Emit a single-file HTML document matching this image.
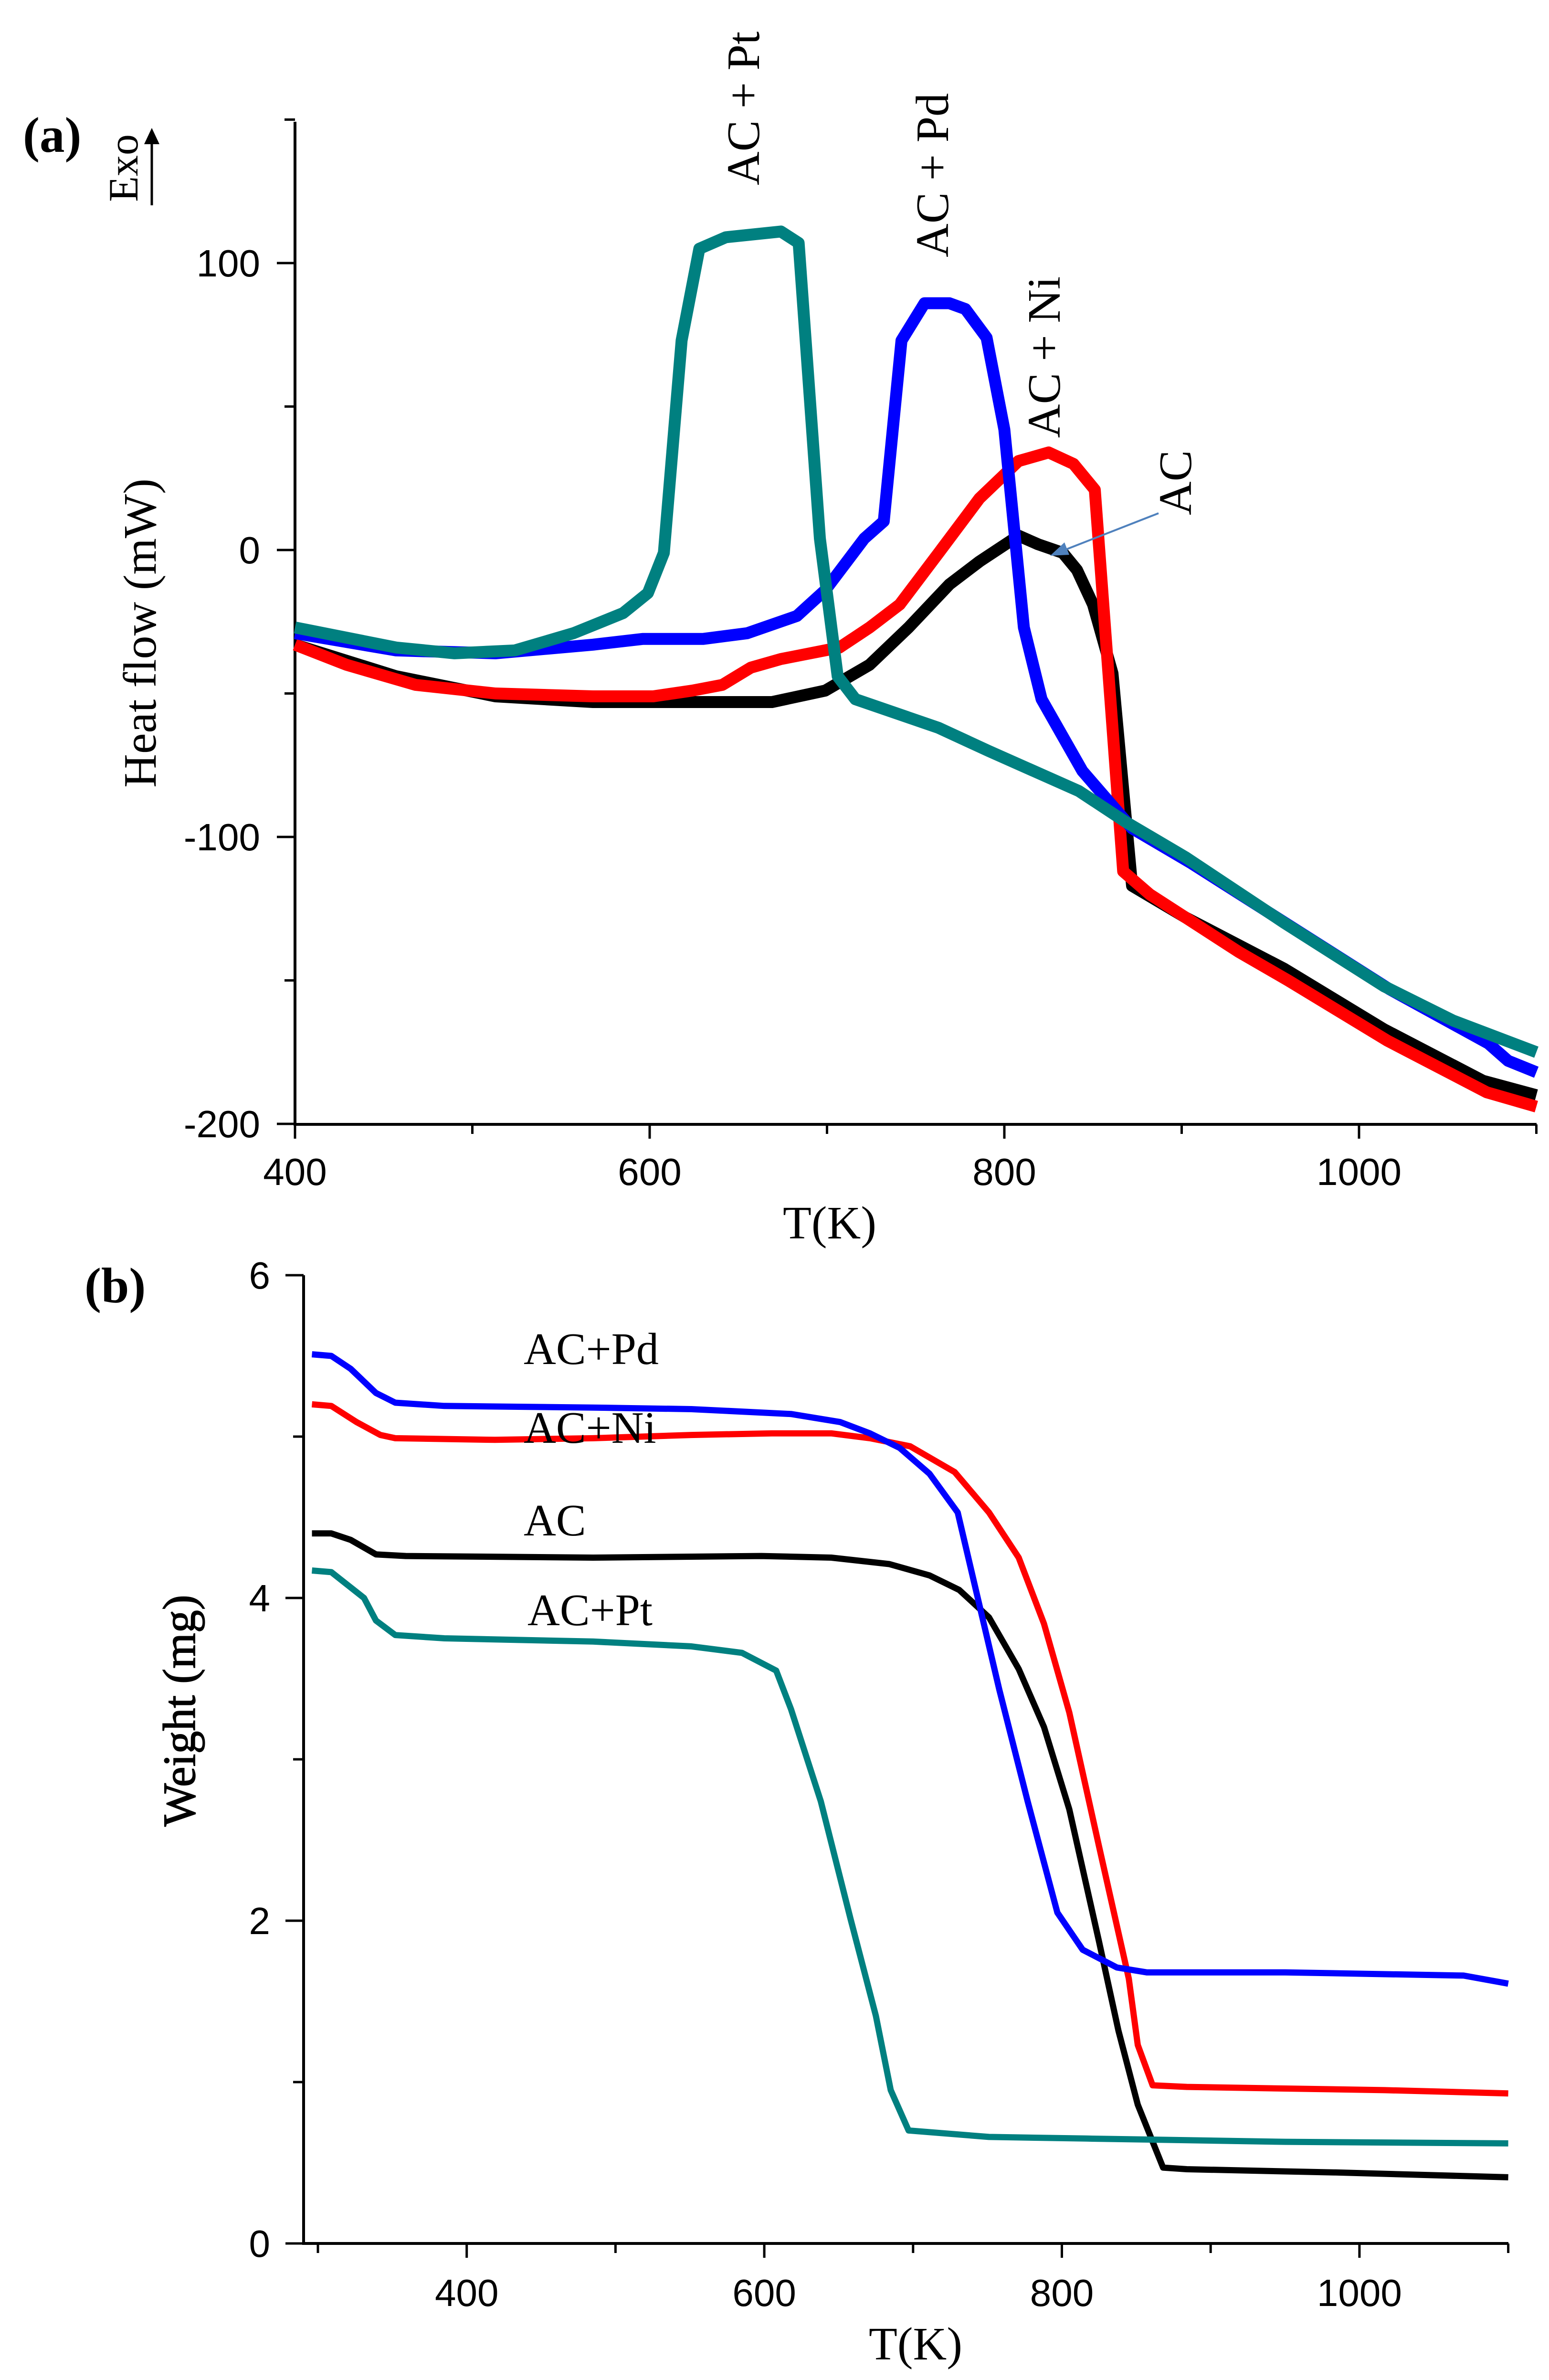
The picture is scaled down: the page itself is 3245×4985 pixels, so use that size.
<!DOCTYPE html>
<html><head><meta charset="utf-8">
<style>
html,body{margin:0;padding:0;background:#fff;}
svg{display:block;}
.tick{font-family:"Liberation Sans",Arial,sans-serif;font-size:80px;fill:#000;}
.serif{font-family:"Liberation Serif","Times New Roman",serif;fill:#000;}
</style></head>
<body>
<svg id="chart" width="3245" height="4985" viewBox="0 0 3245 4985" xmlns="http://www.w3.org/2000/svg">
  <g id="pa"></g>
  <g id="pb"></g>
  <text class="serif" x="48" y="318" font-size="105" font-weight="bold">(a)</text>
  <g>
    <text class="serif" transform="translate(288,352) rotate(-90)" font-size="88" text-anchor="middle">Exo</text>
    <line x1="318" y1="430" x2="318" y2="300" stroke="#000" stroke-width="5"/>
    <polygon points="302,302 334,302 318,268" fill="#000"/>
  </g>
  <text class="serif" transform="translate(326,1326) rotate(-90)" font-size="98" text-anchor="middle">Heat flow (mW)</text>
  <text class="serif" x="1738" y="2594" font-size="98" text-anchor="middle">T(K)</text>
  <text class="serif" transform="translate(1590,227) rotate(-90)" font-size="98" text-anchor="middle">AC + Pt</text>
  <text class="serif" transform="translate(1986,367) rotate(-90)" font-size="98" text-anchor="middle">AC + Pd</text>
  <text class="serif" transform="translate(2220,748) rotate(-90)" font-size="98" text-anchor="middle">AC + Ni</text>
  <text class="serif" transform="translate(2495,1011) rotate(-90)" font-size="98" text-anchor="middle">AC</text>
  <g>
    <line x1="2427" y1="1075" x2="2225" y2="1154" stroke="#4f81bd" stroke-width="4"/>
    <polygon points="2200,1164 2230,1136 2240,1162" fill="#4f81bd"/>
  </g>
  <text class="serif" x="177" y="2728" font-size="105" font-weight="bold">(b)</text>
  <text class="serif" transform="translate(408,3583) rotate(-90)" font-size="96" text-anchor="middle" stroke="#000" stroke-width="1.5">Weight (mg)</text>
  <text class="serif" x="1918" y="4942" font-size="98" text-anchor="middle">T(K)</text>
  <text class="serif" x="1097" y="2857" font-size="94">AC+Pd</text>
  <text class="serif" x="1097" y="3022" font-size="94">AC+Ni</text>
  <text class="serif" x="1097" y="3216" font-size="94">AC</text>
  <text class="serif" x="1105" y="3404" font-size="94">AC+Pt</text>
</svg>
<script>
// ---- Panel (a) DSC data ----
const aXTicks = [400, 600, 800, 1000];
const aXMinor = [500, 700, 900, 1100];
const aYTicks = [100, 0, -100, -200];
const aYMinor = [150, 50, -50, -150];
const ptT = [400,457,490,524,557,585,599,608,618,628,643,674,684,696,706,716,763,791,842,869,902,958,1014,1053,1100];
const ptV = [-27,-34,-36,-35,-29,-22,-15,-1,73,105,109,111,107,4,-44,-52,-62,-70,-84,-95,-107,-130,-152,-164,-175];
const pdT = [400,457,513,568,596,630,655,683,699,721,732,742,755,769,778,790,800,811,821,844,872,905,961,1017,1073,1084,1100];
const pdV = [-29,-35,-36,-33,-31,-31,-29,-23,-14,4,10,73,86,86,84,74,42,-27,-52,-77,-97,-109,-131,-153,-172,-178,-182];
const niT = [400,429,468,513,568,602,624,641,657,674,707,724,741,763,786,808,825,839,851,857,867,882,932,960,1016,1072,1100];
const niV = [-33,-40,-47,-50,-51,-51,-49,-47,-41,-38,-34,-27,-19,-1,18,31,34,30,21,-29,-112,-120,-140,-150,-171,-189,-194];
const acT = [400,457,513,568,624,669,699,724,746,769,786,808,819,833,841,850,861,872,902,958,1014,1070,1100];
const acV = [-33,-44,-51,-53,-53,-53,-49,-40,-27,-12,-4,5,2,-1,-7,-19,-43,-117,-128,-146,-167,-185,-190];
// ---- Panel (b) TGA data ----
const bXTicks = [400, 600, 800, 1000];
const bXMinor = [300, 500, 700, 900, 1100];
const bYTicks = [0, 2, 4, 6];
const bYMinor = [1, 3, 5];
const bPdT = [296,309,322,339,352,385,485,551,618,651,671,691,711,730,744,758,777,797,814,837,857,950,1070,1100];
const bPdW = [5.51,5.50,5.42,5.27,5.21,5.19,5.18,5.17,5.14,5.09,5.02,4.93,4.77,4.53,3.98,3.43,2.74,2.05,1.82,1.71,1.68,1.68,1.66,1.61];
const bNiT = [296,309,326,342,352,419,485,551,605,645,671,698,728,751,771,788,805,825,845,851,861,884,1017,1100];
const bNiW = [5.20,5.19,5.09,5.01,4.99,4.98,4.99,5.01,5.02,5.02,4.99,4.94,4.78,4.53,4.25,3.84,3.29,2.46,1.64,1.23,0.98,0.97,0.95,0.93];
const bAcT = [296,309,322,339,359,485,598,645,684,711,731,751,771,788,805,825,838,851,868,884,984,1100];
const bAcW = [4.40,4.40,4.36,4.27,4.26,4.25,4.26,4.25,4.21,4.14,4.05,3.88,3.56,3.20,2.69,1.87,1.32,0.86,0.47,0.46,0.44,0.41];
const bPtT = [296,309,331,339,352,385,485,551,585,608,618,638,658,675,685,697,751,817,950,1100];
const bPtW = [4.17,4.16,4.00,3.86,3.77,3.75,3.73,3.70,3.66,3.55,3.31,2.74,2.01,1.41,0.95,0.70,0.66,0.65,0.63,0.62];

const NS = 'http://www.w3.org/2000/svg';
function mk(parent, tag, attrs){ const e=document.createElementNS(NS,tag); for(const k in attrs) e.setAttribute(k,attrs[k]); parent.appendChild(e); return e; }

// axis functions
const axA = v => 618 + (v-400)*3.715;
const ayA = v => 1152 - v*6.01;
const axB = v => 666 + (v-300)*3.117;
const ayB = v => 4699 - v*338;

function drawPanel(g, ax, ay, xMaj, xMin, yMaj, yMin, xL, xR, yTop, yBot, xLabelY, yLabelX, fmt){
  const axes = mk(g,'path',{d:`M${xL},${yTop} L${xL},${yBot} L${xR},${yBot}`,fill:'none',stroke:'#000','stroke-width':6});
  
  
  xMaj.forEach(v=>{
    mk(g,'line',{x1:ax(v),y1:yBot,x2:ax(v),y2:yBot+30,stroke:'#000','stroke-width':5});
    const t=mk(g,'text',{x:ax(v),y:xLabelY,'text-anchor':'middle',class:'tick'});
    t.textContent=v;
    
    
  });
  xMin.forEach(v=>{ mk(g,'line',{x1:ax(v),y1:yBot,x2:ax(v),y2:yBot+20,stroke:'#000','stroke-width':5}); });
  yMaj.forEach(v=>{
    mk(g,'line',{x1:xL-38,y1:ay(v),x2:xL,y2:ay(v),stroke:'#000','stroke-width':5});
    const t=mk(g,'text',{x:yLabelX,y:ay(v)+28,'text-anchor':'end',class:'tick'});
    t.textContent=fmt(v);
    
    
  });
  yMin.forEach(v=>{ mk(g,'line',{x1:xL-22,y1:ay(v),x2:xL,y2:ay(v),stroke:'#000','stroke-width':5}); });
}
function series(g, ax, ay, T, V, color, w, name){
  const d = T.map((t,i)=>(i?'L':'M')+ax(t).toFixed(1)+','+ay(V[i]).toFixed(1)).join(' ');
  const p = mk(g,'path',{d:d,fill:'none',stroke:color,'stroke-width':w,'stroke-linejoin':'round'});
  
  
}
const pa=document.getElementById('pa'), pb=document.getElementById('pb');
drawPanel(pa, axA, ayA, aXTicks, aXMinor, aYTicks, aYMinor, 618, 3219, 255, 2355, 2482, 545, v=>String(v));
series(pa, axA, ayA, acT, acV, '#000000', 25, 'line-ac');
series(pa, axA, ayA, niT, niV, '#ff0000', 25, 'line-ac-ni');
series(pa, axA, ayA, pdT, pdV, '#0000ff', 25, 'line-ac-pd');
series(pa, axA, ayA, ptT, ptV, '#008080', 25, 'line-ac-pt');
drawPanel(pb, axB, ayB, bXTicks, bXMinor, bYTicks, bYMinor, 636, 3160, 2671, 4699, 4830, 566, v=>String(v));
series(pb, axB, ayB, bAcT, bAcW, '#000000', 13, 'line-b-ac');
series(pb, axB, ayB, bNiT, bNiW, '#ff0000', 13, 'line-b-ac-ni');
series(pb, axB, ayB, bPdT, bPdW, '#0000ff', 13, 'line-b-ac-pd');
series(pb, axB, ayB, bPtT, bPtW, '#008080', 13, 'line-b-ac-pt');
</script>
</body></html>
